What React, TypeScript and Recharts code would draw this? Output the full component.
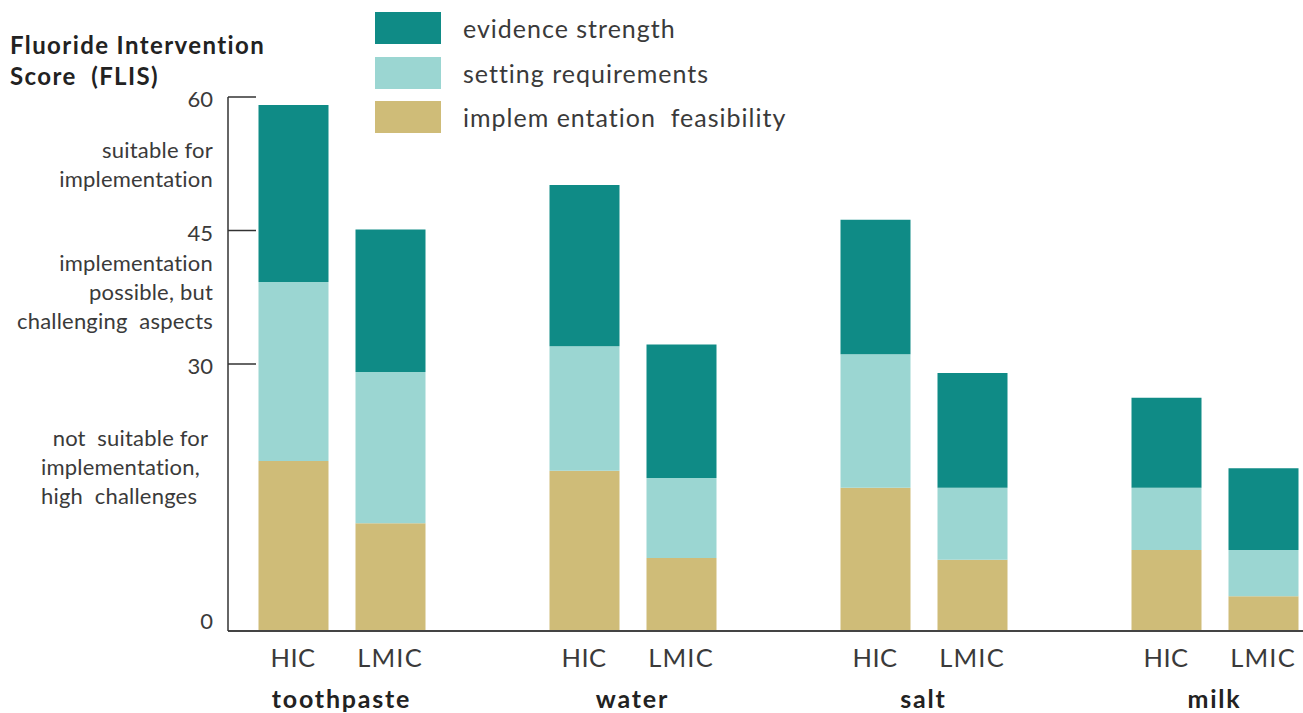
import React from 'react';
import { BarChart, Bar, XAxis, YAxis } from 'recharts';

const categories = ['toothpaste', 'water', 'salt', 'milk'];
const incomeGroups = ['HIC', 'LMIC'];

// order: toothpaste HIC, LMIC, water HIC, LMIC, salt HIC, LMIC, milk HIC, LMIC
const implementationFeasibility = [19.1, 12.1, 18, 8.2, 16.1, 8, 9.1, 3.9];
const settingRequirements = [20.1, 17, 14, 9, 15, 8.1, 7, 5.2];
const evidenceStrength = [19.9, 16, 18.1, 15, 15.1, 12.9, 10.1, 9.2];

const yTicks = [0, 30, 45, 60];

const series = [
  { key: 'evidence', label: 'evidence strength', color: '#0f8b86' },
  { key: 'setting', label: 'setting requirements', color: '#9bd6d2' },
  { key: 'implementation', label: 'implem entation  feasibility', color: '#cfbc78' },
];

const titleLines = ['Fluoride Intervention', 'Score  (FLIS)'];

const bands = [
  { lines: ['suitable for', 'implementation'], top: 135, align: 'right' },
  { lines: ['implementation', 'possible, but', 'challenging  aspects'], top: 248, align: 'right' },
  { lines: ['  not  suitable for', 'implementation,', 'high  challenges'], top: 423, align: 'left' },
];

type Row = {
  id: string;
  group?: string;
  income?: string;
  evidence?: number;
  setting?: number;
  implementation?: number;
};

const rows: Row[] = [];
categories.forEach((cat, ci) => {
  incomeGroups.forEach((inc, ii) => {
    const i = ci * 2 + ii;
    rows.push({
      id: `${cat}|${inc}`,
      group: cat,
      income: inc,
      evidence: evidenceStrength[i],
      setting: settingRequirements[i],
      implementation: implementationFeasibility[i],
    });
  });
  if (ci < categories.length - 1) rows.push({ id: `gap-${ci}` });
});

const textColor = '#3a3a3a';
const font = 'Lato, "Noto Sans", sans-serif';
const axisX = 228;
const slot = 97;

function XTick(props: any) {
  const { x, payload } = props;
  const [group, income] = String(payload.value).split('|');
  if (!income) return null;
  return (
    <g>
      <text
        x={x}
        y={667}
        textAnchor="middle"
        fontSize={25.5}
        letterSpacing={income === 'LMIC' ? 1.2 : 0.5}
        fill={textColor}
        fontFamily={font}
      >
        {income}
      </text>
      {income === 'HIC' ? (
        <text
          x={x + slot / 2}
          y={708}
          textAnchor="middle"
          fontSize={25}
          fontWeight={700}
          letterSpacing={1.8}
          fill="#222"
          fontFamily={font}
        >
          {group}
        </text>
      ) : null}
    </g>
  );
}

function YTick(props: any) {
  const { y, payload } = props;
  const v = payload.value;
  return (
    <g>
      <text x={213} y={y + (v === 0 ? -2 : 10)} textAnchor="end" fontSize={22} fill={textColor} fontFamily={font}>
        {v}
      </text>
      {v > 0 ? <line x1={axisX} x2={axisX + 28} y1={y} y2={y} stroke="#333" strokeWidth={1.5} /> : null}
    </g>
  );
}

export default function App() {
  return (
    <div
      style={{
        position: 'fixed',
        left: 0,
        top: 0,
        width: 1303,
        height: 713,
        overflow: 'hidden',
        background: '#fff',
        fontFamily: font,
        color: textColor,
      }}
    >
      {titleLines.map((t, i) => (
        <div
          key={t}
          style={{
            position: 'absolute',
            left: 10,
            top: 29 + i * 31,
            fontSize: 24,
            fontWeight: 700,
            letterSpacing: 1.4,
            lineHeight: '31px',
            color: '#222',
            whiteSpace: 'pre',
          }}
        >
          {t}
        </div>
      ))}

      <div style={{ position: 'absolute', left: 375, top: 12 }}>
        {series.map((s) => (
          <div key={s.key} style={{ display: 'flex', alignItems: 'center', height: 32, marginBottom: 12.5 }}>
            <div style={{ width: 66, height: 32, background: s.color }} />
            <span style={{ marginLeft: 22, fontSize: 25, whiteSpace: 'pre', letterSpacing: 1 }}>{s.label}</span>
          </div>
        ))}
      </div>

      {bands.map((b, i) => (
        <div
          key={i}
          style={{
            position: 'absolute',
            top: b.top,
            left: b.align === 'left' ? 41 : undefined,
            right: b.align === 'right' ? 1303 - 213 : undefined,
            textAlign: b.align as any,
            fontSize: 22,
            letterSpacing: 0.2,
            lineHeight: '29px',
            whiteSpace: 'pre',
          }}
        >
          {b.lines.join('\n')}
        </div>
      ))}

      <div style={{ position: 'absolute', left: 0, top: 0 }}>
        <BarChart
          width={1320}
          height={713}
          data={rows}
          margin={{ top: 97, right: 8.5, bottom: 0, left: 0 }}
          barSize={70}
        >
          <XAxis
            dataKey="id"
            height={82}
            interval={0}
            padding={{ left: 16.5, right: 0 }}
            tickLine={false}
            axisLine={{ stroke: '#444', strokeWidth: 2 }}
            tick={<XTick />}
          />
          <YAxis
            width={228}
            domain={[0, 60]}
            ticks={yTicks}
            tickLine={false}
            axisLine={{ stroke: '#333', strokeWidth: 1.5 }}
            tick={<YTick />}
          />
          <Bar dataKey="implementation" stackId="a" fill="#cfbc78" isAnimationActive={false} />
          <Bar dataKey="setting" stackId="a" fill="#9bd6d2" isAnimationActive={false} />
          <Bar dataKey="evidence" stackId="a" fill="#0f8b86" isAnimationActive={false} />
        </BarChart>
      </div>
    </div>
  );
}
